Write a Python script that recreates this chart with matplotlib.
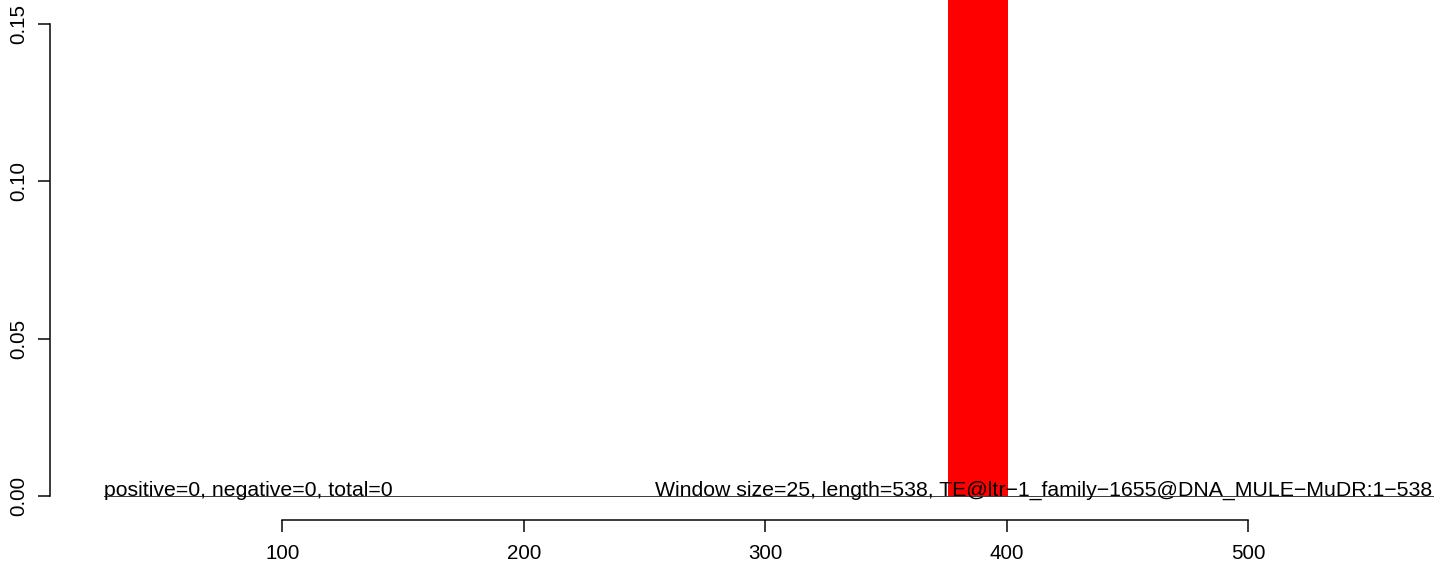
import matplotlib.pyplot as plt

# window bars (start, end, value) - only one non-empty window
bar_start = [375.5]
bar_end = [400.5]
bar_value = [0.2]
xticks = [100, 200, 300, 400, 500]
yticks = [0.00, 0.05, 0.10, 0.15]
left_label = "positive=0, negative=0, total=0"
right_label = "Window size=25, length=538, TE@ltr\u22121_family\u22121655@DNA_MULE\u2212MuDR:1\u2212538"

plt.rcParams['font.family'] = ['Liberation Sans', 'DejaVu Sans']

W, H = 1444, 571
fig = plt.figure(figsize=(W / 72, H / 72), dpi=72)
ax = fig.add_axes([104 / W, (H - 496) / H, (1432.5 - 104) / W, 496 / H])
ax.set_xlim(26.2, 576.3)
ax.set_ylim(0, 0.1576)

for s, e, v in zip(bar_start, bar_end, bar_value):
    ax.bar(s, v, width=e - s, align='edge', color='red', edgecolor='none', zorder=1)

ax.axhline(0, color='#404040', lw=1.0, zorder=2, clip_on=False)
# text drawn over the bar
ax.text(26.2, 0, left_label, ha='left', va='baseline', fontsize=21.3, zorder=3)
ax.text(576.3, 0, right_label, ha='right', va='baseline', fontsize=21.3, zorder=3)

for sp in ['top', 'right']:
    ax.spines[sp].set_visible(False)
ax.spines['left'].set_position(('outward', 54))
ax.spines['left'].set_bounds(0, 0.15)
ax.spines['bottom'].set_position(('outward', 24))
ax.spines['bottom'].set_bounds(100, 500)
for sp in ['left', 'bottom']:
    ax.spines[sp].set_linewidth(1.5)

ax.set_xticks(xticks)
ax.set_xticklabels([str(t) for t in xticks])
ax.set_yticks(yticks)
ax.set_yticklabels(["%.2f" % t for t in yticks], rotation=90, va='center')
ax.tick_params(axis='both', length=12, width=1.5, labelsize=20.5)
ax.tick_params(axis='x', pad=12)
ax.tick_params(axis='y', pad=10)

fig.savefig('out.png', dpi=72)
